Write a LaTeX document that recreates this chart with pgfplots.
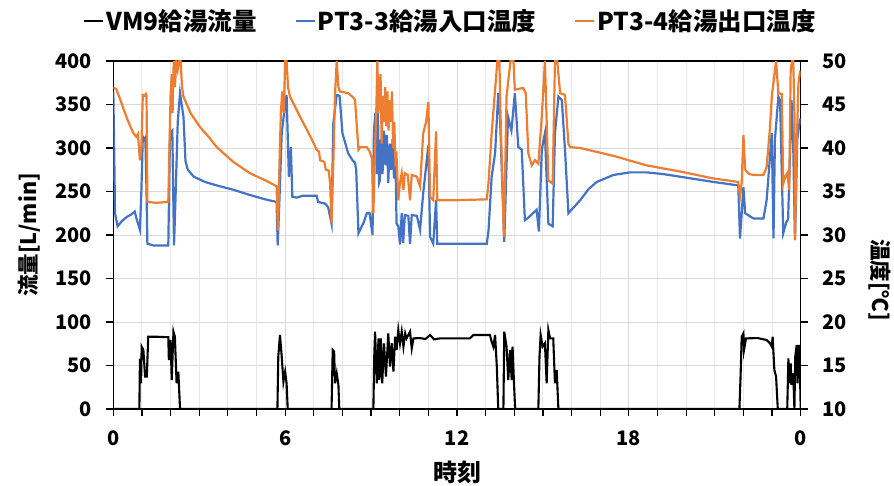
\documentclass[border=0pt]{standalone}
\usepackage{fontspec}
\setmainfont{DejaVu Sans}
\newfontfamily\jp{Noto Sans CJK JP}
\usepackage{pgfplots}
\pgfplotsset{compat=1.18}

\definecolor{xlblue}{HTML}{4472C4}
\definecolor{xlorange}{HTML}{ED7D31}
\definecolor{gridgray}{HTML}{D9D9D9}

% flow VM9 [L/min], hours
\pgfplotstableread{
h flow
0 0
0.91 0
0.93 58
0.97 29.5
0.99 71.6
1.05 67.8
1.11 37.2
1.17 37.2
1.22 83.1
1.5 83.1
1.92 82.5
1.94 56.3
2.00 79.3
2.04 33.3
2.10 88.9
2.15 83.1
2.21 29.5
2.27 42.9
2.33 0
5.73 0
5.76 60.2
5.82 85.1
5.88 60.2
5.94 31.4
6.00 42.9
6.05 29.5
6.09 0
7.62 0
7.66 67.8
7.71 65.9
7.74 29.5
7.80 41.0
7.86 27.6
7.89 0
9.08 0
9.11 60.2
9.14 88.9
9.20 29.5
9.26 81.2
9.29 33.3
9.34 81.2
9.39 29.5
9.45 75.5
9.52 37.2
9.60 87
9.66 48.7
9.72 75.5
9.78 42.9
9.84 83.1
9.89 67.8
9.95 90.8
10.01 75.5
10.07 88.9
10.13 71.6
10.19 87
10.24 81.2
10.30 85
10.36 88.9
10.42 69.7
10.48 81.2
10.7 81.5
10.9 80.5
11.06 85
11.2 80
11.41 81.2
12.0 81.2
12.45 81.2
12.57 85.1
13.15 85.1
13.21 77.4
13.27 71.6
13.33 85.1
13.39 48.7
13.44 0
13.62 0
13.65 88.9
13.73 71.6
13.79 33.3
13.85 67.8
13.91 33.3
13.94 71.6
13.99 29.5
14.03 0
14.84 0
14.88 60.2
14.92 85.1
14.99 71.6
15.07 75.5
15.13 29.5
15.19 90.8
15.25 81.2
15.36 81.2
15.42 29.5
15.48 44.8
15.54 0
21.86 0
21.90 37.2
21.94 83.1
22.00 87
22.02 67.8
22.09 81.2
22.5 81.5
22.81 79.3
22.93 75.5
22.99 71.6
23.02 83.1
23.08 44.8
23.14 37.2
23.20 0
23.53 0
23.57 58.2
23.60 29.5
23.65 52.5
23.68 27.6
23.74 41
23.78 0
23.81 60.2
23.86 73.6
23.89 29.5
23.93 73.6
23.97 48.7
24.00 0
}\flowtab

% PT3-3 inlet temperature [C]
\pgfplotstableread{
h t
0 46.5
0.03 40
0.06 32.5
0.15 31.0
0.3 31.6
0.48 32.1
0.6 32.3
0.75 32.7
0.8 32.0
0.93 30.6
0.98 35
1.03 41.3
1.08 41.0
1.12 41.2
1.16 35
1.19 29.0
1.4 28.8
1.92 28.8
1.98 41.7
2.06 42
2.12 28.8
2.17 34
2.25 43
2.33 46.3
2.45 43.6
2.52 38.5
2.6 37.5
2.81 36.7
3.2 36.1
3.61 35.7
4.19 35.2
4.77 34.6
5.3 34.1
5.70 33.8
5.74 28.8
5.8 34
5.88 41.7
5.98 44.5
6.05 46.1
6.13 36.7
6.2 40.1
6.25 34.4
6.4 34.3
6.6 34.5
7.1 34.5
7.15 33.8
7.4 33.6
7.5 33.2
7.62 31.3
7.68 42.8
7.8 46.1
7.9 46.0
8.0 41.7
8.2 39.4
8.35 38.6
8.44 38.3
8.48 37.5
8.56 30.2
8.75 31.5
8.85 32.5
8.95 32.5
9.05 30.0
9.10 42
9.15 44
9.20 37
9.24 44
9.28 36
9.31 36.3
9.35 41
9.40 37
9.45 42
9.50 38
9.55 41.5
9.60 36
9.65 40.5
9.70 37.5
9.75 41
9.80 36.5
9.85 39
9.89 31.3
9.95 31.0
10.01 28.9
10.07 32.5
10.12 29.1
10.18 32.3
10.3 32.2
10.36 29.0
10.42 32.3
10.6 32.2
10.71 30.6
10.82 34.8
11.00 40.3
11.06 29.8
11.17 29.0
11.27 34
11.31 29.0
13.04 29.0
13.10 30.5
13.21 36.7
13.33 39.4
13.44 46.3
13.50 43.6
13.65 29.2
13.78 43.6
13.90 42.0
14.02 46.3
14.14 40.1
14.26 39.8
14.37 31.7
14.49 32.0
14.78 32.9
14.86 30.4
14.96 39.8
15.07 41.7
15.19 31.3
15.34 31.0
15.42 41.7
15.54 45.9
15.66 45.5
15.77 39.8
15.89 32.5
16.0 32.9
16.30 34.0
16.6 35.3
16.88 36.1
17.46 36.9
18.04 37.2
18.62 37.2
19.2 37.0
19.79 36.7
20.95 36.1
21.82 35.7
21.88 29.6
21.94 32.5
22.00 35.5
22.06 32.5
22.35 31.9
22.70 31.9
22.81 34.0
22.99 41.7
23.05 29.6
23.1 41
23.22 45.9
23.28 45.5
23.39 30.2
23.50 31.5
23.56 31.8
23.68 45.5
23.74 40
23.80 29.4
23.88 41
23.98 43.4
}\intab

% PT3-4 outlet temperature [C]
\pgfplotstableread{
h t
0 46.9
0.1 46.8
0.25 45.5
0.5 43.2
0.70 41.7
0.8 41.3
0.86 41.6
0.93 38.6
0.98 40
1.03 46.1
1.1 46.0
1.14 46.2
1.16 46.0
1.19 33.8
1.5 33.7
1.92 33.8
1.96 40
2.00 46
2.04 48.5
2.07 44
2.11 50
2.15 47
2.2 50
2.25 49
2.3 50
2.35 50
2.4 47
2.45 45.9
2.7 44.0
3.03 42.4
3.35 41.2
3.61 40.1
4.19 38.4
4.77 37.1
5.3 36.3
5.70 35.6
5.75 30.5
5.80 38
5.85 44
5.90 46.5
5.95 44
6.00 50
6.05 50
6.10 47
6.17 45.9
6.52 43.6
6.9 41.2
7.10 39.8
7.18 39.6
7.22 38.6
7.37 38.4
7.42 37.5
7.52 37.4
7.57 35.9
7.62 31.4
7.68 38
7.74 46
7.80 50
7.86 47
7.91 46.5
8.2 46.3
8.38 45.8
8.44 45.5
8.56 39.8
8.62 40.1
8.85 40.1
8.95 39.6
9.03 38.8
9.08 32.5
9.14 40
9.18 44
9.22 50
9.26 44
9.30 47
9.33 48.5
9.37 40.5
9.41 46
9.45 43
9.49 47
9.53 42.5
9.57 46.5
9.61 42
9.65 45.5
9.69 43
9.73 46.5
9.77 40
9.81 43
9.85 38.5
9.89 39.0
9.95 34.0
10.01 36
10.07 37.1
10.13 35.2
10.18 37.1
10.28 36.9
10.36 34.0
10.42 36.9
10.60 36.7
10.71 35.6
10.82 41.7
10.92 43
11.00 45.3
11.06 34.4
11.17 34.0
11.27 41.9
11.31 34.0
12.0 34.0
13.04 34.1
13.10 36
13.21 41.7
13.33 46.7
13.41 50
13.48 50
13.52 43.6
13.64 29.8
13.73 45.9
13.80 48
13.87 50
13.97 50
14.02 46.7
14.31 46.9
14.40 46.3
14.49 39.4
14.61 38.0
14.72 38.6
14.84 38.2
14.96 43.6
15.07 50
15.19 36.3
15.34 35.9
15.42 50
15.50 50
15.60 46.3
15.77 46.1
15.89 40.5
15.95 40.1
16.30 40.0
17.46 39.1
18.62 38.0
19.79 37.3
20.95 36.5
21.82 36.1
21.88 34.4
21.94 36
22.00 41.5
22.06 37.5
22.2 37.0
22.35 36.9
22.70 36.9
22.81 37.8
22.92 42
22.99 45.9
23.05 47.5
23.14 50
23.22 46.3
23.34 46.2
23.39 35.9
23.47 36.8
23.53 37.1
23.60 35.2
23.65 49
23.70 50
23.74 50
23.78 44
23.80 29.4
23.86 40
23.92 47.4
23.98 48.9
}\outtab

\tikzset{lab/.style={font=\jp\bfseries\fontsize{21.5}{21.5}\selectfont}}
\pgfplotsset{
  base/.style={
    scale only axis, width=687.4pt, height=348pt,
    at={(113.3pt,76pt)}, anchor=south west,
    xmin=0, xmax=24,
    tick align=outside, major tick length=7pt, minor tick length=7pt,
    every tick/.style={black, line width=1.2pt},
    every minor tick/.style={black, line width=1.2pt},
    axis line style={black, line width=1.5pt},
    tick label style={font=\jp\bfseries\fontsize{20}{20}\selectfont},
    /pgf/number format/assume math mode=true,
  },
}

\begin{document}
\begin{tikzpicture}
\path[use as bounding box] (0,0) rectangle (894pt,485pt);
\begin{axis}[base,
  ymin=0, ymax=400, ytick={0,50,...,400},
  xtick={0,6,12,18,24}, xticklabels={0,6,12,18,0},
  minor xtick={1,...,23},
  xtick pos=bottom, ytick pos=left,
  ymajorgrids, xmajorgrids, xminorgrids,
  major grid style={gridgray, line width=1pt},
  minor grid style={gridgray!60, line width=1pt},
  xticklabel style={yshift=-11pt},
  yticklabel style={xshift=-11pt},
  xlabel={時刻},
  xlabel style={font=\jp\bfseries\fontsize{24}{24}\selectfont,
    at={(axis description cs:0.5,-0.181)}, anchor=center},
  ylabel={流量[L/min]},
  ylabel style={lab, at={(axis description cs:-0.122,0.5)}, anchor=center},
]
\addplot[black, line width=2.1pt] table[x=h, y=flow] {\flowtab};
\end{axis}
\begin{axis}[base,
  axis y line*=right, axis x line=none,
  xtick=\empty, minor xtick={},
  ymin=10, ymax=50, ytick={10,15,...,50},
  yticklabel style={xshift=11pt},
  ylabel={温度[℃]},
  ylabel style={lab, at={(axis description cs:1.115,0.371)}, anchor=center, rotate=180},
  legend columns=3,
  legend image code/.code={\draw[#1] (0pt,0pt) -- (19pt,0pt);},
  legend style={at={(axis description cs:0.4905,1.115)}, anchor=center,
    draw=none, fill=none, inner sep=0pt,
    font=\jp\bfseries\fontsize{24.5}{24.5}\selectfont,
    /tikz/every even column/.append style={column sep=36pt}},
]
\addlegendimage{black, line width=2.1pt}
\addlegendentry{VM9給湯流量}
\addplot[xlblue, line width=2.2pt] table[x=h, y=t] {\intab};
\addlegendentry{PT3-3給湯入口温度}
\addplot[xlorange, line width=2.2pt] table[x=h, y=t] {\outtab};
\addlegendentry{PT3-4給湯出口温度}
\end{axis}
\end{tikzpicture}
\end{document}
